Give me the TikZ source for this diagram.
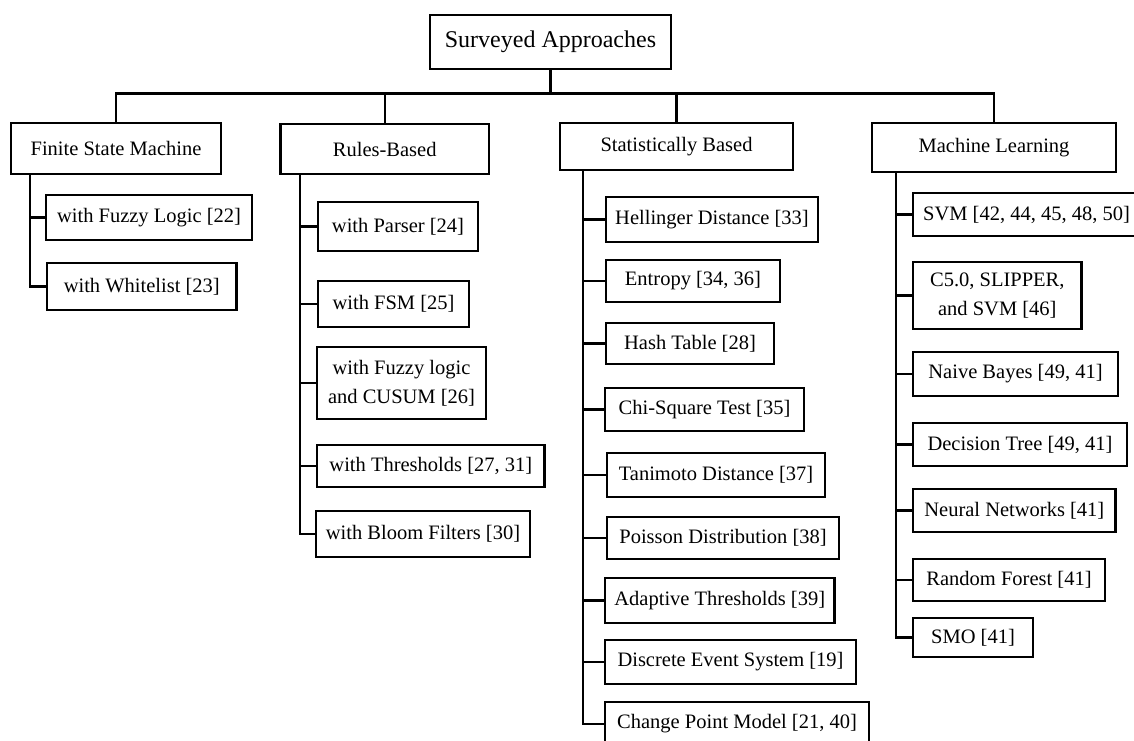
\documentclass[tikz,border=0pt]{standalone}
\usepackage{fontspec}
\setmainfont{Liberation Serif}

\begin{document}
\begin{tikzpicture}[x=1pt,y=-1pt,line width=2.3pt,
    box/.style={draw,line width=2.3pt,inner sep=2pt,align=center,font=\fontsize{20.5}{29}\selectfont},
    wire/.style={line width=2.2pt}]
  \useasboundingbox (0,0) rectangle (1134,740);
  % root and the four families
  \node[box,font=\fontsize{24}{29}\selectfont,minimum width=241,minimum height=54] (root) at (550.5,42) {Surveyed Approaches};
  \coordinate (hub) at (550.5,93.5);
  \node[box,minimum width=210,minimum height=51] (fsm)   at (116,148.5)   {Finite State Machine};
  \node[box,minimum width=208.5,minimum height=50] (rules) at (384.75,149) {Rules-Based};
  \node[box,minimum width=233,minimum height=47] (stat)  at (676.5,146.5) {Statistically Based};
  \node[box,minimum width=244,minimum height=49] (ml)    at (994,147.5)   {Machine Learning};
  \draw[wire] (root.south) -- (hub) -| (fsm.north);
  \draw[wire] (hub) -| (rules.north);
  \draw[wire] (hub) -| (stat.north);
  \draw[wire] (hub) -| (ml.north);
  % finite state machine
  \node[box,minimum width=206,minimum height=45]   (fsmA) at (149,217.5)   {with Fuzzy Logic [22]};
  \node[box,minimum width=189.5,minimum height=47] (fsmB) at (141.75,286.5) {with Whitelist [23]};
  \foreach \c in {fsmA,fsmB}
    \draw[wire] ([xshift=20.4pt]fsm.south west) |- (\c.west);
  % rules-based
  \node[box,minimum width=160,minimum height=49]   (rulA) at (398,226.5)   {with Parser [24]};
  \node[box,minimum width=151,minimum height=46]   (rulB) at (393.5,304)   {with FSM [25]};
  \node[box,minimum width=169,minimum height=72]   (rulC) at (401.5,383)   {with Fuzzy logic\\and CUSUM [26]};
  \node[box,minimum width=227.6,minimum height=42] (rulD) at (430.8,466)   {with Thresholds [27, 31]};
  \node[box,minimum width=214,minimum height=46]   (rulE) at (423,534)     {with Bloom Filters [30]};
  \foreach \c in {rulA,rulB,rulC,rulD,rulE}
    \draw[wire] ([xshift=21pt]rules.south west) |- (\c.west);
  % statistically based
  \node[box,minimum width=212,minimum height=45]   (staA) at (712,219.5)   {Hellinger Distance [33]};
  \node[box,minimum width=174,minimum height=42]   (staB) at (693,281)     {Entropy [34, 36]};
  \node[box,minimum width=168,minimum height=41]   (staC) at (690,343.5)   {Hash Table [28]};
  \node[box,minimum width=199,minimum height=43]   (staD) at (704.5,409.5) {Chi-Square Test [35]};
  \node[box,minimum width=218,minimum height=44]   (staE) at (716,475)     {Tanimoto Distance [37]};
  \node[box,minimum width=232,minimum height=42]   (staF) at (723,538)     {Poisson Distribution [38]};
  \node[box,minimum width=229.5,minimum height=45] (staG) at (719.75,600.5) {Adaptive Thresholds [39]};
  \node[box,minimum width=251,minimum height=44]   (staH) at (730.5,662)   {Discrete Event System [19]};
  \node[box,minimum width=264,minimum height=44]   (staI) at (737,724)     {Change Point Model [21, 40]};
  \foreach \c in {staA,staB,staC,staD,staE,staF,staG,staH,staI}
    \draw[wire] ([xshift=24pt]stat.south west) |- (\c.west);
  % machine learning
  \node[box,minimum width=227,minimum height=43]   (mlA) at (1026.5,214.5) {SVM [42, 44, 45, 48, 50]};
  \node[box,minimum width=168.6,minimum height=67] (mlB) at (997.3,295.5)  {C5.0, SLIPPER,\\and SVM [46]};
  \node[box,minimum width=205,minimum height=44]   (mlC) at (1015.5,374)   {Naive Bayes [49, 41]};
  \node[box,minimum width=214,minimum height=43]   (mlD) at (1020,444.5)   {Decision Tree [49, 41]};
  \node[box,minimum width=202.6,minimum height=43] (mlE) at (1014.3,510.5) {Neural Networks [41]};
  \node[box,minimum width=192,minimum height=42]   (mlF) at (1009,580)     {Random Forest [41]};
  \node[box,minimum width=120,minimum height=39]   (mlG) at (973,637.5)    {SMO [41]};
  \foreach \c in {mlA,mlB,mlC,mlD,mlE,mlF,mlG}
    \draw[wire] ([xshift=25.5pt]ml.south west) |- (\c.west);
\end{tikzpicture}
\end{document}
